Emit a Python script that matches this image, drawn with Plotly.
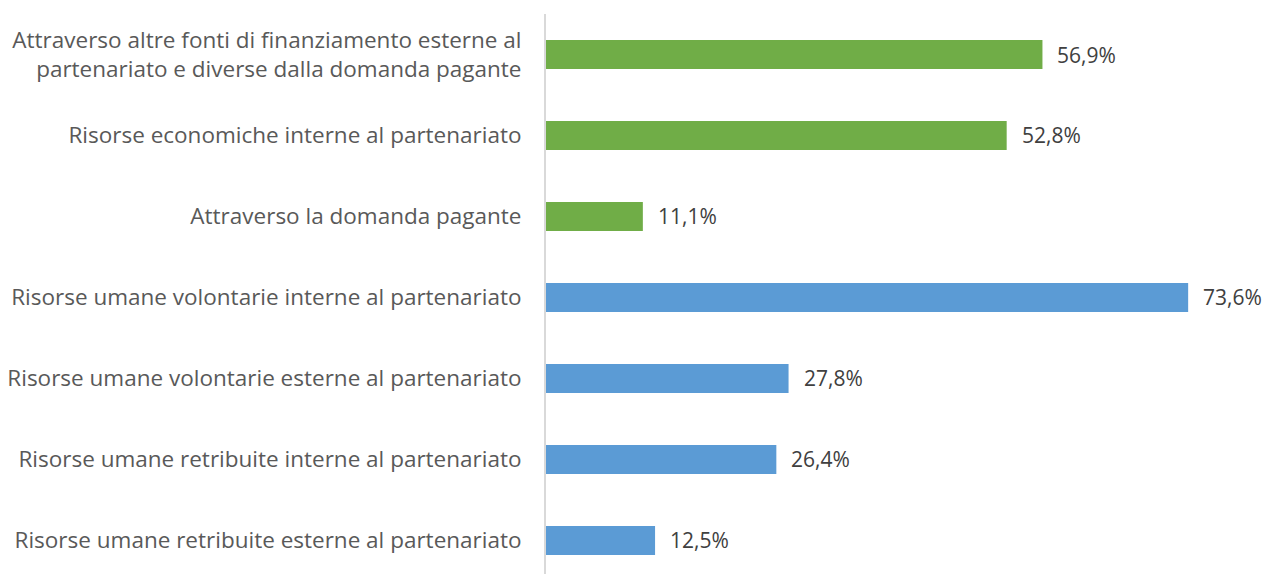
import plotly.graph_objects as go

categories = [
    "Risorse umane retribuite esterne al partenariato",
    "Risorse umane retribuite interne al partenariato",
    "Risorse umane volontarie esterne al partenariato",
    "Risorse umane volontarie interne al partenariato",
    "Attraverso la domanda pagante",
    "Risorse economiche interne al partenariato",
    "Attraverso altre fonti di finanziamento esterne al<br>partenariato e diverse dalla domanda pagante",
]
values = [12.5, 26.4, 27.8, 73.6, 11.1, 52.8, 56.9]
value_labels = ["12,5%", "26,4%", "27,8%", "73,6%", "11,1%", "52,8%", "56,9%"]
GREEN = "#70AD47"
BLUE = "#5B9BD5"
colors = [BLUE, BLUE, BLUE, BLUE, GREEN, GREEN, GREEN]

fig = go.Figure()
fig.add_trace(go.Bar(
    x=values, y=categories, orientation="h",
    marker=dict(color=colors, line=dict(width=0)),
    width=0.36, hoverinfo="skip",
))
for v, c, t in zip(values, categories, value_labels):
    fig.add_annotation(x=v, y=c, text=t, showarrow=False, xanchor="left",
                       xshift=13, font=dict(family="Open Sans", size=21, color="#404040"))

fig.update_layout(
    width=1266, height=574,
    margin=dict(l=546, r=22, t=14, b=0),
    paper_bgcolor="white", plot_bgcolor="white",
    showlegend=False,
    font=dict(family="Open Sans", size=22.5, color="#595959"),
    xaxis=dict(visible=False, range=[0, 80], fixedrange=True),
    yaxis=dict(
        type="category", categoryorder="array", categoryarray=categories,
        range=[-0.414, 6.5], showline=True, linecolor="#D9D9D9", linewidth=2,
        showgrid=False, zeroline=False, ticks="", ticklabelstandoff=18,
        automargin=False, fixedrange=True,
        tickfont=dict(family="Open Sans", size=22.5, color="#595959"),
    ),
)
fig.write_html("out.html", config={"displayModeBar": False},
               post_script="document.body.style.margin='0';")
